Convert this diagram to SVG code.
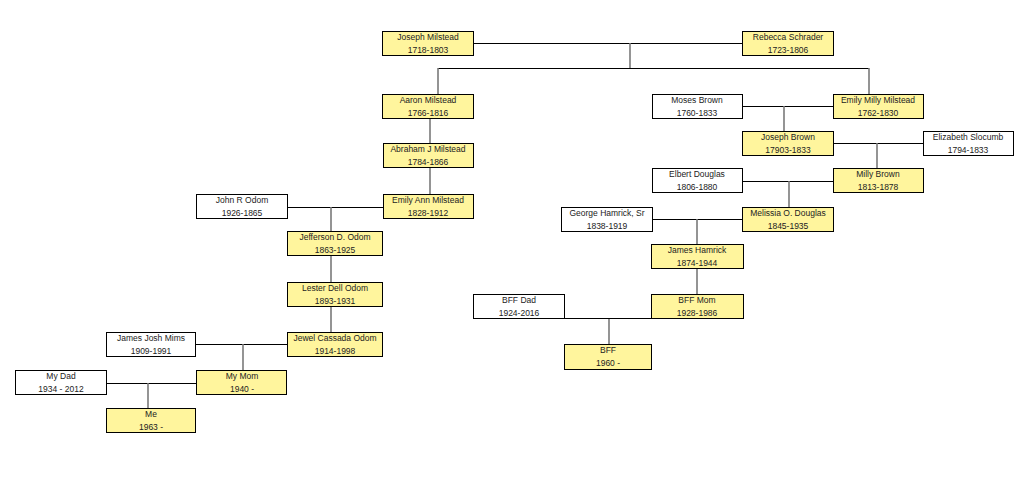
<svg xmlns="http://www.w3.org/2000/svg" width="1032" height="483" viewBox="0 0 1032 483">
<style>
.b rect{stroke:#000;stroke-width:1}
.y rect{fill:#FFF59D}
.w rect{fill:#fff}
text{font-family:"Liberation Sans",Arial,sans-serif;font-size:8.5px;fill:#222;text-anchor:middle}
.m{stroke:#000;stroke-width:1;fill:none}
.d{stroke:#7a7a7a;stroke-width:1.6;fill:none}
</style>
<rect width="1032" height="483" fill="#fff"/>
<g id="connectors">
<path class="m" d="M473 43.5H742"/>
<path class="d" d="M630 43V68"/>
<path class="m" d="M438 68.5H869"/>
<path class="d" d="M438 68V94M869 68V94"/>
<path class="d" d="M430 118V143M430 168V194"/>
<path class="m" d="M287 207.5H383"/>
<path class="d" d="M331 207V231M331 256V282M331 307V332"/>
<path class="m" d="M195 344.5H287"/>
<path class="d" d="M243 344V370"/>
<path class="m" d="M106 383.5H196"/>
<path class="d" d="M148 383V408"/>
<path class="m" d="M742 106.5H833"/>
<path class="d" d="M784 106V131"/>
<path class="m" d="M833 143.5H923"/>
<path class="d" d="M877 143V168"/>
<path class="m" d="M742 181.5H833"/>
<path class="d" d="M789 181V207"/>
<path class="m" d="M652 219.5H742"/>
<path class="d" d="M697 219V244M697 269V294"/>
<path class="m" d="M564 318.5H651"/>
<path class="d" d="M609 319V344"/>
</g>
<g id="n1" class="b y"><rect x="382.5" y="31.5" width="91" height="24"/><text x="428" y="40">Joseph Milstead</text><text x="428" y="53">1718-1803</text></g>
<g id="n2" class="b y"><rect x="742.5" y="31.5" width="91" height="24"/><text x="788" y="40">Rebecca Schrader</text><text x="788" y="53">1723-1806</text></g>
<g id="n3" class="b y"><rect x="382.5" y="94.5" width="91" height="24"/><text x="428" y="103">Aaron Milstead</text><text x="428" y="116">1766-1816</text></g>
<g id="n4" class="b w"><rect x="652.5" y="94.5" width="90" height="24"/><text x="697" y="103">Moses Brown</text><text x="697" y="116">1760-1833</text></g>
<g id="n5" class="b y"><rect x="833.5" y="94.5" width="90" height="24"/><text x="878" y="103">Emily Milly Milstead</text><text x="878" y="116">1762-1830</text></g>
<g id="n6" class="b y"><rect x="383.5" y="143.5" width="90" height="24"/><text x="428" y="152">Abraham J Milstead</text><text x="428" y="165">1784-1866</text></g>
<g id="n7" class="b y"><rect x="742.5" y="131.5" width="91" height="24"/><text x="788" y="140">Joseph Brown</text><text x="788" y="153">17903-1833</text></g>
<g id="n8" class="b w"><rect x="923.5" y="131.5" width="90" height="24"/><text x="968" y="140">Elizabeth Slocumb</text><text x="968" y="153">1794-1833</text></g>
<g id="n9" class="b w"><rect x="652.5" y="168.5" width="90" height="24"/><text x="697" y="177">Elbert Douglas</text><text x="697" y="190">1806-1880</text></g>
<g id="n10" class="b y"><rect x="833.5" y="168.5" width="90" height="24"/><text x="878" y="177">Milly Brown</text><text x="878" y="190">1813-1878</text></g>
<g id="n11" class="b w"><rect x="196.5" y="194.5" width="91" height="24"/><text x="242" y="203">John R Odom</text><text x="242" y="216">1926-1865</text></g>
<g id="n12" class="b y"><rect x="383.5" y="194.5" width="90" height="24"/><text x="428" y="203">Emily Ann Milstead</text><text x="428" y="216">1828-1912</text></g>
<g id="n13" class="b w"><rect x="561.5" y="207.5" width="91" height="24"/><text x="607" y="216">George Hamrick, Sr</text><text x="607" y="229">1838-1919</text></g>
<g id="n14" class="b y"><rect x="742.5" y="207.5" width="91" height="24"/><text x="788" y="216">Melissia O. Douglas</text><text x="788" y="229">1845-1935</text></g>
<g id="n15" class="b y"><rect x="287.5" y="231.5" width="95" height="24"/><text x="335" y="240">Jefferson D. Odom</text><text x="335" y="253">1863-1925</text></g>
<g id="n16" class="b y"><rect x="651.5" y="244.5" width="92" height="24"/><text x="697" y="253">James Hamrick</text><text x="697" y="266">1874-1944</text></g>
<g id="n17" class="b y"><rect x="287.5" y="282.5" width="95" height="24"/><text x="335" y="291">Lester Dell Odom</text><text x="335" y="304">1893-1931</text></g>
<g id="n18" class="b w"><rect x="473.5" y="294.5" width="91" height="24"/><text x="519" y="303">BFF Dad</text><text x="519" y="316">1924-2016</text></g>
<g id="n19" class="b y"><rect x="651.5" y="294.5" width="92" height="24"/><text x="697" y="303">BFF Mom</text><text x="697" y="316">1928-1986</text></g>
<g id="n20" class="b w"><rect x="106.5" y="332.5" width="89" height="24"/><text x="151" y="341">James Josh  Mims</text><text x="151" y="354">1909-1991</text></g>
<g id="n21" class="b y"><rect x="287.5" y="332.5" width="95" height="24"/><text x="335" y="341">Jewel Cassada Odom</text><text x="335" y="354">1914-1998</text></g>
<g id="n22" class="b y"><rect x="564.5" y="344.5" width="87" height="25"/><text x="608" y="353">BFF</text><text x="608" y="366">1960 -</text></g>
<g id="n23" class="b w"><rect x="15.5" y="370.5" width="91" height="24"/><text x="61" y="379">My Dad</text><text x="61" y="392">1934 - 2012</text></g>
<g id="n24" class="b y"><rect x="196.5" y="370.5" width="90" height="24"/><text x="242" y="379">My Mom</text><text x="242" y="392">1940 -</text></g>
<g id="n25" class="b y"><rect x="106.5" y="408.5" width="89" height="24"/><text x="151" y="417">Me</text><text x="151" y="430">1963 -</text></g>
</svg>
